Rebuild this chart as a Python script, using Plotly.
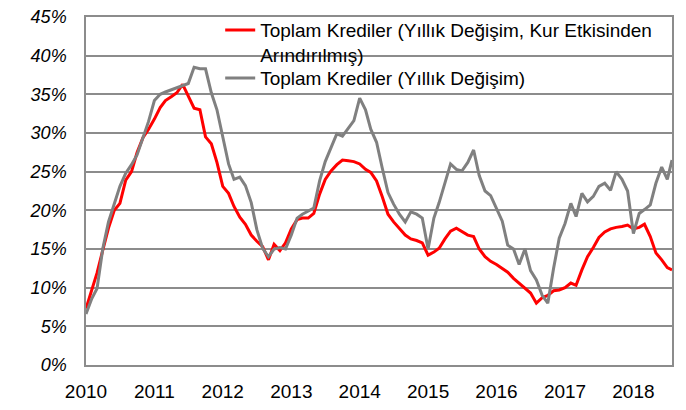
import pandas as pd
import plotly.graph_objects as go

# Monthly readings (first of month), 2010-01 .. 2018-07, plus last observation
dates = list(pd.date_range("2010-01-01", "2018-07-01", freq="MS").strftime("%Y-%m-%d")) + ["2018-07-26"]

red_fx_adjusted = [
    7.3, 9.9, 11.9, 14.9, 17.7, 20.0, 20.9, 23.9, 25.0, 27.5, 29.4, 30.5,
    31.8, 33.3, 34.2, 34.7, 35.2, 36.3, 34.7, 33.2, 33.0, 29.5, 28.6, 26.2,
    23.1, 22.2, 20.5, 19.1, 18.2, 16.8, 16.0, 15.3, 13.6, 15.6, 14.8, 15.8,
    17.6, 18.8, 19.0, 19.0, 19.6, 22.1, 24.0, 25.1, 25.9, 26.5, 26.4, 26.3,
    26.0, 25.3, 24.9, 23.8, 21.8, 19.5, 18.5, 17.6, 16.8, 16.3, 16.1, 15.8,
    14.2, 14.6, 15.1, 16.3, 17.3, 17.7, 17.3, 16.8, 16.6, 15.0, 14.0, 13.4,
    13.0, 12.5, 12.0, 11.2, 10.6, 10.0, 9.3, 8.0, 8.7, 9.0, 9.6, 9.7,
    10.0, 10.6, 10.3, 12.3, 14.0, 15.2, 16.5, 17.2, 17.6, 17.8, 17.9, 18.1,
    17.6, 17.8, 18.2, 16.6, 14.5, 13.6, 12.6, 12.3,
]

gray_total = [
    6.6, 8.6, 9.9, 15.1, 18.5, 20.9, 23.1, 24.8, 25.9, 27.2, 29.3, 31.5,
    34.2, 35.0, 35.3, 35.6, 35.9, 36.2, 36.4, 38.5, 38.3, 38.3, 35.2, 33.0,
    29.5, 26.0, 24.0, 24.3, 23.2, 21.0, 17.5, 15.1, 14.0, 15.0, 15.2, 15.0,
    16.8, 19.0, 19.5, 19.9, 20.3, 23.8, 26.3, 28.1, 29.9, 29.6, 30.7, 31.6,
    34.5, 33.0, 30.5, 28.8, 25.5, 22.3, 20.8, 19.5, 18.5, 19.8, 19.5, 19.0,
    15.0, 19.0, 21.0, 23.6, 26.0, 25.3, 25.1, 26.2, 27.8, 24.5, 22.5, 21.9,
    20.3, 18.6, 15.5, 15.0, 13.0, 15.0, 12.2, 11.0, 9.0, 8.0, 12.5, 16.4,
    18.3, 20.9, 19.2, 22.2, 21.1, 21.8, 23.1, 23.5, 22.6, 25.0, 24.0, 22.5,
    17.0, 19.6, 20.1, 20.7, 23.5, 25.6, 24.0, 26.5,
]

series_names = [
    "Toplam Krediler (Yıllık Değişim, Kur Etkisinden<br>Arındırılmış)",
    "Toplam Krediler (Yıllık Değişim)",
]

year_ticks = [f"{y}-01-01" for y in range(2010, 2019)]
year_labels = [str(y) for y in range(2010, 2019)]
y_ticks = list(range(0, 50, 5))
y_labels = [f"{v}%" for v in y_ticks]

FONT = "Liberation Sans, Arial, sans-serif"
GRID = "#8c8c8c"

fig = go.Figure()
fig.add_trace(go.Scatter(x=dates, y=red_fx_adjusted, mode="lines", name=series_names[0],
                         line=dict(color="#ff0000", width=3), legend="legend"))
fig.add_trace(go.Scatter(x=dates, y=gray_total, mode="lines", name=series_names[1],
                         line=dict(color="#808080", width=3), legend="legend2"))

legend_common = dict(xanchor="left", yanchor="top", bgcolor="rgba(0,0,0,0)",
                     font=dict(size=19, color="black", family=FONT), valign="top")

fig.update_layout(
    width=686, height=410,
    margin=dict(l=86, r=14, t=17, b=45, autoexpand=False),
    paper_bgcolor="white", plot_bgcolor="white",
    font=dict(family=FONT, color="black"),
    showlegend=True,
    legend=dict(x=0.229, y=1.017, **legend_common),
    legend2=dict(x=0.229, y=0.879, **legend_common),
    xaxis=dict(type="date", range=["2010-01-01", "2018-07-26"],
               tickmode="array", tickvals=year_ticks, ticktext=year_labels,
               showgrid=False, showline=True, mirror=True, linecolor=GRID, linewidth=1.5,
               ticks="outside", ticklen=8, tickcolor="rgba(0,0,0,0)",
               tickfont=dict(size=19, color="black", family=FONT), zeroline=False,
               automargin=False),
    yaxis=dict(range=[0, 45], tickmode="array", tickvals=y_ticks, ticktext=y_labels,
               showgrid=True, gridcolor=GRID, gridwidth=1.5,
               showline=True, mirror=True, linecolor=GRID, linewidth=1.5,
               ticks="outside", ticklen=14, tickcolor="rgba(0,0,0,0)",
               tickfont=dict(size=18, color="black", family=FONT, style="italic"),
               zeroline=False, automargin=False),
)

# remove the browser's default page margin so the figure fills the window exactly
fig.write_html("out.html", config={"displayModeBar": False},
               post_script="document.body.style.margin='0px';")
